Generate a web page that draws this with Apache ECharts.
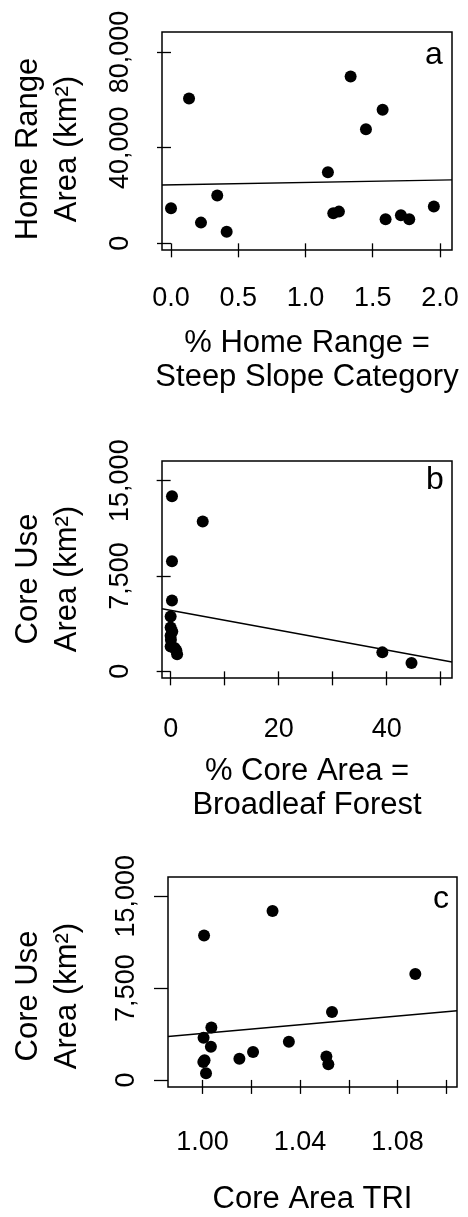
<!DOCTYPE html>
<html>
<head>
<meta charset="utf-8">
<script src="https://cdn.jsdelivr.net/npm/echarts@6/dist/echarts.min.js"></script>
<style>
html,body{margin:0;padding:0;background:#fff;}
#main{width:468px;height:1217px;}
</style>
</head>
<body>
<div id="main"></div>
<script>
/* panel a: steep slope vs home range area */
var aX = [0.00, 0.134, 0.223, 0.344, 0.414, 1.167, 1.207, 1.249, 1.336, 1.450, 1.574, 1.596, 1.710, 1.772, 1.955];
var aY = [14660, 60590, 8660, 19970, 4890, 29740, 12570, 13260, 69810, 47750, 55850, 10050, 11730, 10050, 15360];
var aFit = [24490, 976];
var aXTicks = [0, 0.5, 1, 1.5, 2];
var aYTicks = [0, 40000, 80000];

/* panel b: broadleaf forest vs core use area */
var bX = [0.25, 5.94, 0.25, 0.25, 0.0, 0.0, 0.3, 0.0, 0.05, 0.0, 0.74, 1.05, 1.2, 39.2, 44.6];
var bY = [13770, 11780, 8665, 5576, 4319, 3455, 3141, 2801, 2487, 1963, 1832, 1649, 1335, 1492, 654];
var bFit = [4796, -78];
var bXTicks = [0, 10, 20, 30, 40, 50];
var bXLabels = [0, 20, 40];
var bYTicks = [0, 7500, 15000];

/* panel c: core area TRI vs core use area */
var cX = [1.0006, 1.0287, 1.0873, 1.0531, 1.0036, 1.0004, 1.0034, 1.0354, 1.0207, 1.0151, 1.0508, 1.0516, 1.0003, 1.0014, 1.0008];
var cY = [11795, 13791, 8643, 5543, 4282, 3441, 2706, 3126, 2285, 1734, 1918, 1287, 1471, 552, 1600];
var cFit = [-13925, 17723];
var cXTicks = [1.00, 1.02, 1.04, 1.06, 1.08, 1.10];
var cXLabels = [1.00, 1.04, 1.08];
var cYTicks = [0, 7500, 15000];

var FONT = '"Liberation Sans", Arial, sans-serif';

function pairs(xs, ys){
    var out = [];
    for(var i = 0; i < xs.length; i++){ out.push([xs[i], ys[i]]); }
    return out;
}
function fitLine(fit, lo, hi){
    return [[lo, fit[0] + fit[1]*lo], [hi, fit[0] + fit[1]*hi]];
}
function commas(v){
    return String(Math.round(v)).replace(/\B(?=(\d{3})+(?!\d))/g, ",");
}

var grids = [
    {left:162, top:32, width:290, height:218},
    {left:162, top:461, width:290, height:217},
    {left:168, top:877, width:289, height:217}
];
grids.forEach(function(g){
    g.show = true;
    g.borderColor = '#000';
    g.borderWidth = 1.5;
    g.backgroundColor = 'transparent';
});

function xAxis(idx, lo, hi, ticks, labels, digits, name, gap, margin){
    return {
        type:'value', gridIndex:idx, min:lo, max:hi,
        name:name, nameLocation:'middle', nameGap:gap,
        nameTextStyle:{fontFamily:FONT, fontSize:31, color:'#000', lineHeight:34},
        axisLine:{show:false},
        splitLine:{show:false},
        axisTick:{show:true, inside:false, length:14, customValues:ticks, lineStyle:{color:'#000', width:1.3}},
        axisLabel:{show:true, customValues:labels, margin:margin, fontFamily:FONT, fontSize:27, color:'#000',
            formatter:function(v){ return digits > 0 ? Number(v).toFixed(digits) : String(Math.round(v)); }}
    };
}
function yAxis(idx, lo, hi, ticks){
    return {
        type:'value', gridIndex:idx, min:lo, max:hi,
        axisLine:{show:false},
        splitLine:{show:false},
        axisTick:{show:true, inside:false, length:14, customValues:ticks, lineStyle:{color:'#000', width:1.3}},
        axisLabel:{show:true, customValues:ticks, rotate:90, margin:28, fontFamily:FONT, fontSize:27, color:'#000',
            formatter:function(v){ return commas(v); }}
    };
}

var aXR = [-0.067, 2.09], aYR = [-2790, 88380];
var bXR = [-1.6, 52.1], bYR = [-524, 16545];
var cXR = [0.9858, 1.1044], cYR = [-578, 16576];

var xAxes = [
    xAxis(0, aXR[0], aXR[1], aXTicks, aXTicks, 1, '% Home Range =\nSteep Slope Category', 76, 35),
    xAxis(1, bXR[0], bXR[1], bXTicks, bXLabels, 0, '% Core Area =\nBroadleaf Forest', 76, 38),
    xAxis(2, cXR[0], cXR[1], cXTicks, cXLabels, 2, 'Core Area TRI', 95, 42)
];
var yAxes = [
    yAxis(0, aYR[0], aYR[1], aYTicks),
    yAxis(1, bYR[0], bYR[1], bYTicks),
    yAxis(2, cYR[0], cYR[1], cYTicks)
];

function scatter(idx, xs, ys){
    return {type:'scatter', xAxisIndex:idx, yAxisIndex:idx, data:pairs(xs, ys),
        symbol:'circle', symbolSize:12, itemStyle:{color:'#000', opacity:1}, silent:true, animation:false};
}
function fit(idx, f, r){
    return {type:'line', xAxisIndex:idx, yAxisIndex:idx, data:fitLine(f, r[0], r[1]),
        showSymbol:false, symbol:'none', lineStyle:{color:'#000', width:1.4}, silent:true, animation:false};
}

function vText(x, y, txt){
    return {type:'text', x:x, y:y, rotation:Math.PI/2,
        style:{text:txt, fontFamily:FONT, fontSize:31, fill:'#000', align:'center', verticalAlign:'middle'}};
}
function letter(x, y, txt){
    return {type:'text', x:x, y:y,
        style:{text:txt, fontFamily:FONT, fontSize:32, fill:'#000', align:'center', verticalAlign:'middle'}};
}

var chart = echarts.init(document.getElementById('main'), null, {renderer:'canvas'});
chart.setOption({
    backgroundColor:'#fff',
    animation:false,
    grid:grids,
    xAxis:xAxes,
    yAxis:yAxes,
    series:[
        scatter(0, aX, aY), fit(0, aFit, aXR),
        scatter(1, bX, bY), fit(1, bFit, bXR),
        scatter(2, cX, cY), fit(2, cFit, cXR)
    ],
    graphic:[
        vText(28, 149, 'Home Range'), vText(67, 149, 'Area (km²)'),
        vText(28, 579, 'Core Use'), vText(67, 579, 'Area (km²)'),
        vText(28, 996, 'Core Use'), vText(67, 996, 'Area (km²)'),
        letter(434, 55, 'a'), letter(435, 480, 'b'), letter(441, 899, 'c')
    ]
});
</script>
</body>
</html>
